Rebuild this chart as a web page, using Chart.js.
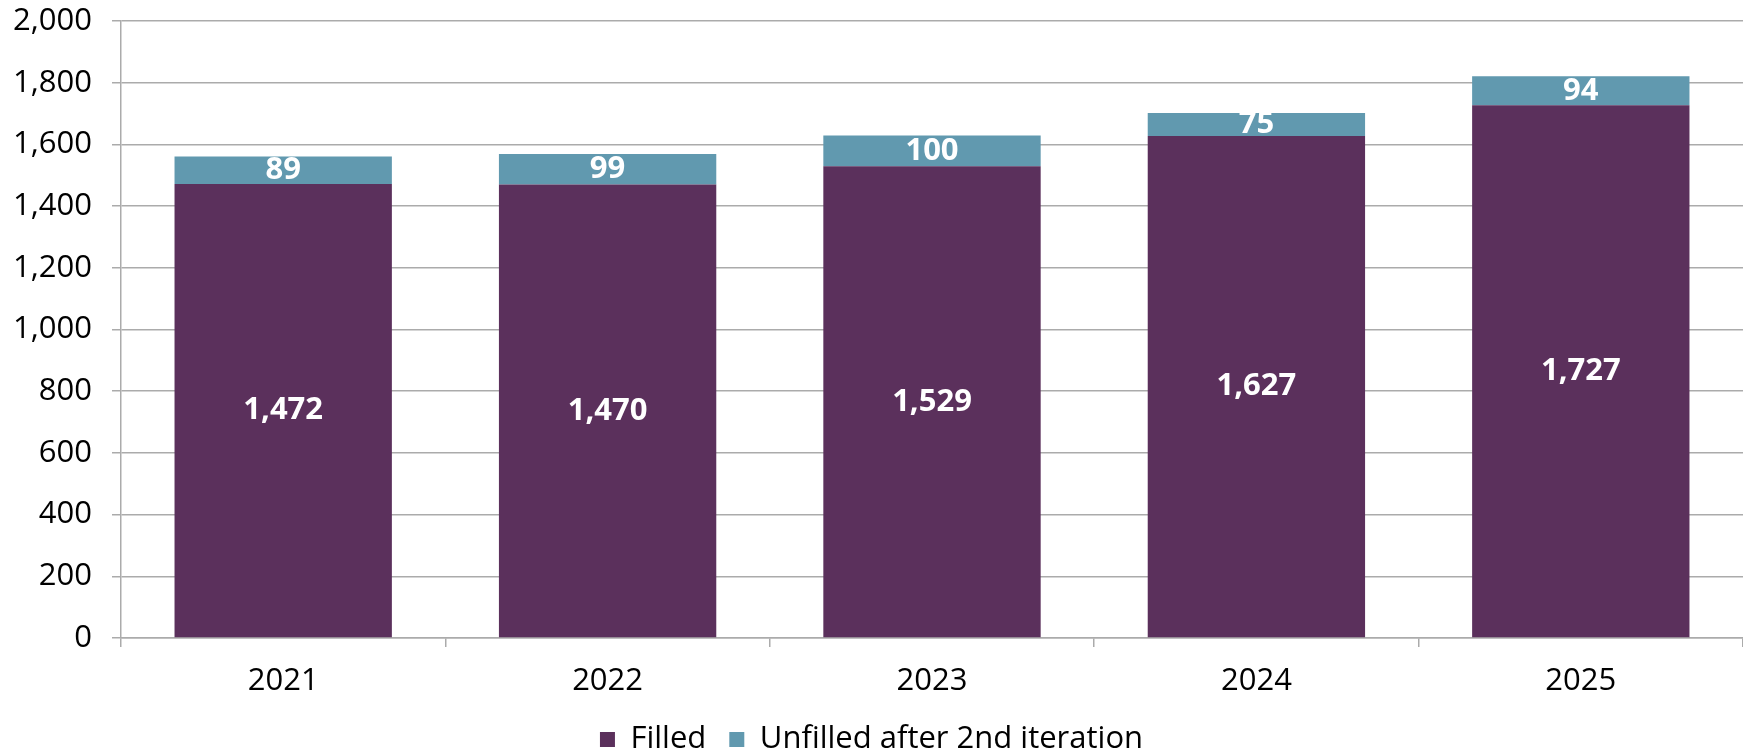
<!DOCTYPE html>
<html>
<head>
    <meta charset="UTF-8">
    <title>Filled vs unfilled</title>
    <style type="text/css">
        body {
            margin: 0;
            padding: 0;
            background-color: white;
        }

        #chartContainer {
            width: 1743px;
            height: 754px;
        }
    </style>
    <script src="https://cdn.jsdelivr.net/npm/chart.js@4.4.0/dist/chart.umd.min.js"></script>
</head>
<body>
    <div id="chartContainer">
        <canvas id="barChart"></canvas>
    </div>

    <script type="text/javascript">
    var years = ['2021', '2022', '2023', '2024', '2025'];
    var filled = [1472, 1470, 1529, 1627, 1727];
    var unfilled = [89, 99, 100, 75, 94];
    var seriesNames = ['Filled', 'Unfilled after 2nd iteration'];

    var fontName = "'Open Sans', sans-serif";
    var gridColor = '#ABABAB';

    // values written in the middle of each bar segment
    var barLabels = {
        id: 'barLabels',
        afterDatasetsDraw: function (chart) {
            var ctx = chart.ctx;
            ctx.save();
            ctx.fillStyle = 'white';
            ctx.font = 'bold 31px ' + fontName;
            ctx.textAlign = 'center';
            ctx.textBaseline = 'middle';
            chart.data.datasets.forEach(function (ds, i) {
                var meta = chart.getDatasetMeta(i);
                meta.data.forEach(function (bar, j) {
                    var mid = (bar.y + bar.base) / 2;
                    ctx.fillText(ds.data[j].toLocaleString('en-US'), bar.x, mid);
                });
            });
            ctx.restore();
        }
    };

    var barChart = new Chart(document.getElementById('barChart'), {
        type: 'bar',
        data: {
            labels: years,
            datasets: [{
                label: seriesNames[0],
                data: filled,
                backgroundColor: '#5B305C',
                categoryPercentage: 0.67,
                barPercentage: 1.0
            }, {
                label: seriesNames[1],
                data: unfilled,
                backgroundColor: '#6199AF',
                categoryPercentage: 0.67,
                barPercentage: 1.0
            }]
        },
        options: {
            responsive: true,
            maintainAspectRatio: false,
            animation: false,
            layout: {
                padding: { top: 21, right: 0, left: 0, bottom: -11 }
            },
            scales: {
                x: {
                    stacked: true,
                    grid: {
                        drawOnChartArea: false,
                        color: gridColor,
                        lineWidth: 1.5,
                        tickLength: 9
                    },
                    border: { color: gridColor, width: 1.5 },
                    ticks: {
                        color: '#000',
                        padding: 16,
                        font: { family: fontName, size: 31 }
                    },
                    afterFit: function (scale) { scale.height = 63; }
                },
                y: {
                    stacked: true,
                    min: 0,
                    max: 2000,
                    grid: {
                        color: gridColor,
                        lineWidth: 1.5,
                        tickLength: 9
                    },
                    border: { color: gridColor, width: 1.5 },
                    ticks: {
                        stepSize: 200,
                        color: '#000',
                        padding: 20,
                        font: { family: fontName, size: 31 },
                        callback: function (value) { return value.toLocaleString('en-US'); }
                    },
                    afterFit: function (scale) {
                        scale.width = 121;
                        scale.paddingTop = 0;
                        scale.paddingBottom = 0;
                    }
                }
            },
            plugins: {
                legend: {
                    position: 'bottom',
                    labels: {
                        color: '#000',
                        boxWidth: 15,
                        boxHeight: 15,
                        padding: 23,
                        font: { family: fontName, size: 31 }
                    }
                },
                tooltip: { enabled: false }
            }
        },
        plugins: [barLabels]
    });
    </script>
</body>
</html>
